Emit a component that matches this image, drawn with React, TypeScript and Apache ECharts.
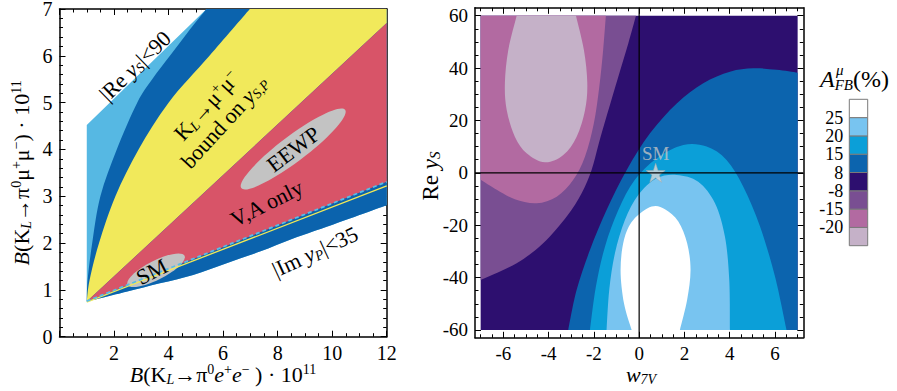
import React, { useEffect, useRef } from 'react';
import * as echarts from 'echarts';

type P = [number, number];

const FONT = "'Liberation Serif', 'Times New Roman', serif";

// ---------------- Left panel data ----------------
// lower boundary of the dark-blue (|Im yP|<35) region
const lowerBoundary: P[] = [[1, 0.75], [2.45, 0.96], [3.68, 1.14], [4.9, 1.32], [6.13, 1.57], [7.35, 1.82], [8.57, 2.1], [9.8, 2.35], [12, 2.81]];
// boundary light blue / dark blue
const lightDarkBoundary: P[] = [[1, 0.75], [1.03, 1.2], [1.2, 2.0], [1.5, 3.0], [2.1, 4.0], [2.85, 5.0], [3.4, 5.5], [4.05, 6.0], [4.7, 6.5], [5.39, 7.0]];
// boundary dark blue / yellow
const darkYellowBoundary: P[] = [[1, 0.75], [1.1, 1.2], [1.45, 2.0], [2.05, 3.0], [2.9, 4.0], [4.0, 5.0], [5.5, 6.0], [6.98, 7.0]];
// outer straight edge of the light-blue region
const lightBlueEdge: P[] = [[1, 0.75], [1, 4.52], [5.39, 7], [12, 7], [12, 2.81]];
// yellow / red boundary
const redTop: P[] = [[1, 0.75], [12, 6.7]];
const redBottom: P[] = [[12, 3.31]];
const dashedLine: P[] = [[1, 0.76], [12, 3.31]];
const yellowLine: P[] = [[1, 0.74], [12, 3.22]];
const ellipseCenters: P[] = [[8.57, 4.01], [3.54, 1.42]];

// ---------------- Right panel data ----------------
const regionBox: P[] = [[-7, -60], [-7, 60], [7, 60], [7, -60]];
const purpleBoundary: P[] = [[-0.14, 60], [-0.48, 49.4], [-0.92, 36.7], [-1.4, 22.7], [-1.78, 11.3], [-2.1, 1.1], [-2.54, -7.8], [-3.2, -16.7], [-4.24, -26.9], [-5.41, -34.5], [-7, -40.9]];
const pinkBoundary: P[] = [[-1.47, 60], [-1.59, 46.9], [-1.76, 32.9], [-2.0, 18.9], [-2.39, 6.2], [-2.91, -2.7], [-3.64, -9.1], [-4.53, -11.6], [-5.49, -10.1], [-6.29, -6.5], [-7, -2.7]];
const lightPinkBoundary: P[] = [[-5.41, 60], [-5.78, 46.9], [-5.93, 34.2], [-5.85, 24.0], [-5.49, 13.8], [-4.97, 7.5], [-4.16, 4.0], [-3.35, 6.8], [-2.76, 13.8], [-2.39, 24.0], [-2.29, 34.2], [-2.44, 46.9], [-2.79, 60]];
const medBlueBoundary: P[] = [[-3.13, -60], [-2.76, -44.7], [-2.17, -29.4], [-1.44, -14.2], [-0.55, 1.1], [0.48, 15.1], [1.66, 26.5], [2.83, 34.2], [4.01, 38.6], [5.04, 39.9], [6.07, 39.3], [7, 38.2]];
const cyanBoundary: P[] = [[-2.17, -60], [-1.91, -43.4], [-1.51, -28.2], [-0.92, -14.2], [-0.19, -2.7], [0.77, 5.5], [1.95, 10.6], [2.98, 10.0], [3.86, 4.9], [4.6, -5.3], [5.34, -20.5], [6.0, -39.6], [6.51, -60]];
const lightBlueBoundary: P[] = [[-1.44, -60], [-1.32, -44.7], [-1.07, -30.7], [-0.63, -18.0], [-0.04, -8.5], [0.77, -2.1], [1.66, -0.8], [2.61, -3.4], [3.35, -11.6], [3.79, -24.4], [3.98, -40.9], [4.01, -60]];
const whiteBoundary: P[] = [[-0.33, -60], [-0.67, -49.8], [-0.82, -37.1], [-0.67, -25.6], [-0.26, -18.0], [0.55, -12.9], [1.14, -13.9], [1.73, -18.6], [2.12, -26.9], [2.27, -37.1], [2.12, -48.5], [1.8, -60]];
const smPoint: P[] = [[0.73, 0]];
const crossV: P[] = [[0, -63], [0, 63]];
const crossH: P[] = [[-7.25, 0], [7.25, 0]];

const rightMajorX = [-6, -4, -2, 0, 2, 4, 6];
const rightMinorX = [-7, -6.5, -6, -5.5, -5, -4.5, -4, -3.5, -3, -2.5, -2, -1.5, -1, -0.5, 0, 0.5, 1, 1.5, 2, 2.5, 3, 3.5, 4, 4.5, 5, 5.5, 6, 6.5, 7];
const rightMajorY = [-60, -40, -20, 0, 20, 40, 60];
const rightMinorY = [-60, -55, -50, -45, -40, -35, -30, -25, -20, -15, -10, -5, 0, 5, 10, 15, 20, 25, 30, 35, 40, 45, 50, 55, 60];

// colour bar, bottom to top
const colorbarLevels = ['-20', '-15', '-8', '8', '15', '20', '25'];
const colorbarColors = ['#c5b1c8', '#b26aa1', '#794e92', '#2d0f6f', '#0c64ae', '#0b9fd8', '#78c4f0', '#ffffff'];

const C = {
  lightBlue: '#56b8e3',
  darkBlue: '#0b63ad',
  yellow: '#f1e95b',
  red: '#d85468',
  gray: '#c3c3c3',
  navy: colorbarColors[3],
  purple: colorbarColors[2],
  pink: colorbarColors[1],
  lightPink: colorbarColors[0],
  medBlue: colorbarColors[4],
  cyan: colorbarColors[5],
  skyBlue: colorbarColors[6],
  white: colorbarColors[7],
};

type Seg = { pts: P[]; smooth?: boolean };

function buildPath(api: any, segs: Seg[]): string {
  let d = '';
  let started = false;
  const f = (n: number) => n.toFixed(2);
  for (const seg of segs) {
    const q = seg.pts.map((p) => api.coord(p) as number[]);
    if (!started) {
      d += `M${f(q[0][0])},${f(q[0][1])}`;
      started = true;
    } else {
      d += `L${f(q[0][0])},${f(q[0][1])}`;
    }
    if (seg.smooth) {
      for (let i = 0; i < q.length - 1; i++) {
        const p0 = q[i - 1] || q[i];
        const p1 = q[i];
        const p2 = q[i + 1];
        const p3 = q[i + 2] || q[i + 1];
        const c1x = p1[0] + (p2[0] - p0[0]) / 6;
        const c1y = p1[1] + (p2[1] - p0[1]) / 6;
        const c2x = p2[0] - (p3[0] - p1[0]) / 6;
        const c2y = p2[1] - (p3[1] - p1[1]) / 6;
        d += `C${f(c1x)},${f(c1y)},${f(c2x)},${f(c2y)},${f(p2[0])},${f(p2[1])}`;
      }
    } else {
      for (let i = 1; i < q.length; i++) d += `L${f(q[i][0])},${f(q[i][1])}`;
    }
  }
  return d + 'Z';
}

function shapeSeries(name: string, axis: number, segs: Seg[], fill: string) {
  return {
    type: 'custom',
    name,
    xAxisIndex: axis,
    yAxisIndex: axis,
    silent: true,
    clip: false,
    data: [[0, 0]],
    renderItem: (_p: any, api: any) => ({
      type: 'path',
      shape: { pathData: buildPath(api, segs) },
      style: { fill, stroke: null },
    }),
  };
}

function rich(size: number, color = '#000') {
  const lh = Math.round(size * 1.1);
  const small = Math.round(size * 0.64);
  return {
    n: { fontFamily: FONT, fontSize: size, color, lineHeight: lh },
    i: { fontFamily: FONT, fontSize: size, color, lineHeight: lh, fontStyle: 'italic' },
    sub: { fontFamily: FONT, fontSize: small, color, fontStyle: 'italic', verticalAlign: 'bottom', lineHeight: 6 },
    sup: { fontFamily: FONT, fontSize: small, color, verticalAlign: 'top', lineHeight: small },
  };
}

function tickRich(size: number) {
  return { t: { fontFamily: FONT, fontSize: size, color: '#000', lineHeight: Math.round(size * 0.75) } };
}

const BLACK = '#000';
const lineStyle = { color: BLACK, width: 1.5 };
const tickStyle = { color: BLACK, width: 1 };

function leftAxis(dim: 'x' | 'y', pos: string, labels: boolean, extra: any) {
  return {
    type: 'value',
    gridIndex: 0,
    position: pos,
    axisLine: { show: true, onZero: false, lineStyle },
    axisTick: { show: true, inside: true, length: 6, lineStyle: tickStyle },
    minorTick: { show: true, splitNumber: dim === 'x' ? 4 : 5, length: 3.5, lineStyle: tickStyle },
    splitLine: { show: false },
    minorSplitLine: { show: false },
    axisLabel: labels
      ? {
          show: true, margin: dim === 'x' ? 9 : 7, showMinLabel: true, showMaxLabel: true,
          rich: tickRich(20),
          formatter: (v: number) => (dim === 'x' && v === 0 ? '' : `{t|${v}}`),
        }
      : { show: false },
    ...extra,
  };
}

function rightAxis(pos: string, major: boolean, values: number[], labels: boolean, extra: any) {
  return {
    type: 'value',
    gridIndex: 1,
    position: pos,
    axisLine: { show: major, onZero: false, lineStyle },
    axisTick: { show: true, inside: true, length: major ? 6 : 3.5, lineStyle: tickStyle, customValues: values },
    splitLine: { show: false },
    axisLabel: labels
      ? {
          show: true, customValues: values, margin: pos === 'bottom' ? 9 : 7,
          rich: tickRich(19),
          formatter: (v: number) => `{t|${v}}`,
        }
      : { show: false },
    ...extra,
  };
}

const starPath = 'path://M50,0 L61.8,35.1 L98.9,35.1 L68.8,56.9 L80.2,91.9 L50,70.2 L19.8,91.9 L31.2,56.9 L1.1,35.1 L38.2,35.1 Z';

function textEl(text: string, x: number, y: number, rotDeg: number, size = 22, color = '#111', align = 'center') {
  return {
    type: 'text',
    x,
    y,
    z: 100,
    rotation: (rotDeg * Math.PI) / 180,
    style: {
      text,
      rich: rich(size, color),
      align,
      verticalAlign: 'middle',
      textAlign: align,
      textVerticalAlign: 'middle',
    },
  };
}

function buildOption(): any {
  const xL = { min: 0, max: 12, interval: 2 };
  const yL = { min: 0, max: 7, interval: 1 };
  const xR = { min: -7.25, max: 7.25 };
  const yR = { min: -63, max: 63 };

  const series: any[] = [
    // left panel regions
    shapeSeries('lightBlue', 0, [{ pts: lightBlueEdge }, { pts: [...lowerBoundary].reverse(), smooth: true }], C.lightBlue),
    shapeSeries('darkBlue', 0, [{ pts: lightDarkBoundary, smooth: true }, { pts: [[12, 7], lowerBoundary[lowerBoundary.length - 1]] }, { pts: [...lowerBoundary].reverse(), smooth: true }], C.darkBlue),
    shapeSeries('yellow', 0, [{ pts: darkYellowBoundary, smooth: true }, { pts: [[12, 7], redTop[1], redTop[0]] }], C.yellow),
    shapeSeries('red', 0, [{ pts: [...redTop, ...redBottom] }], C.red),
    {
      type: 'line', xAxisIndex: 0, yAxisIndex: 0, data: yellowLine, symbol: 'none', silent: true,
      lineStyle: { color: '#f3ea55', width: 1.3 },
    },
    {
      type: 'line', xAxisIndex: 0, yAxisIndex: 0, data: dashedLine, symbol: 'none', silent: true,
      lineStyle: { color: '#57bde6', width: 1.8, type: [4, 3] },
    },
    {
      type: 'custom', xAxisIndex: 0, yAxisIndex: 0, silent: true, data: ellipseCenters,
      renderItem: (params: any, api: any) => {
        const c = api.coord([api.value(0), api.value(1)]);
        const big = params.dataIndex === 0;
        return {
          type: 'ellipse',
          x: c[0],
          y: c[1],
          rotation: ((big ? 37 : 27) * Math.PI) / 180,
          shape: { cx: 0, cy: 0, rx: big ? 65 : 32, ry: big ? 13 : 9.5 },
          style: { fill: C.gray },
        };
      },
    },
    // right panel contours
    shapeSeries('navy', 2, [{ pts: regionBox }], C.navy),
    shapeSeries('purple', 2, [{ pts: purpleBoundary, smooth: true }, { pts: [[-7, 60]] }], C.purple),
    shapeSeries('pink', 2, [{ pts: pinkBoundary, smooth: true }, { pts: [[-7, 60]] }], C.pink),
    shapeSeries('lightPink', 2, [{ pts: lightPinkBoundary, smooth: true }], C.lightPink),
    shapeSeries('medBlue', 2, [{ pts: medBlueBoundary, smooth: true }, { pts: [[7, -60]] }], C.medBlue),
    shapeSeries('cyan', 2, [{ pts: cyanBoundary, smooth: true }], C.cyan),
    shapeSeries('skyBlue', 2, [{ pts: lightBlueBoundary, smooth: true }], C.skyBlue),
    shapeSeries('white', 2, [{ pts: whiteBoundary, smooth: true }], C.white),
    {
      type: 'line', xAxisIndex: 2, yAxisIndex: 2, data: crossV, symbol: 'none', silent: true,
      lineStyle: { color: BLACK, width: 1.2 },
    },
    {
      type: 'line', xAxisIndex: 2, yAxisIndex: 2, data: crossH, symbol: 'none', silent: true,
      lineStyle: { color: BLACK, width: 1.2 },
    },
    {
      type: 'scatter', xAxisIndex: 2, yAxisIndex: 2, data: smPoint, symbol: starPath, symbolSize: 19, silent: true,
      itemStyle: { color: '#dadada', borderColor: '#a9a9a9', borderWidth: 0.6 },
      label: { show: true, formatter: 'SM', position: 'top', distance: 0, color: '#c4c4c4', fontFamily: FONT, fontSize: 19 },
    },
    // colour bar
    {
      type: 'custom', xAxisIndex: 6, yAxisIndex: 6, silent: true, clip: false,
      data: colorbarColors.map((_, i) => [i]),
      renderItem: (params: any, api: any) => {
        const i = params.dataIndex;
        const p0 = api.coord([0, i]);
        const p1 = api.coord([1, i + 1]);
        return {
          type: 'rect',
          shape: { x: p0[0], y: p1[1], width: p1[0] - p0[0], height: p0[1] - p1[1] },
          style: { fill: colorbarColors[i], stroke: '#7a7a7a', lineWidth: 1 },
        };
      },
    },
  ];

  return {
    animation: false,
    backgroundColor: '#ffffff',
    textStyle: { fontFamily: FONT },
    grid: [
      { left: 59.5, top: 9, width: 327.2, height: 327.7, containLabel: false, outerBoundsMode: 'none' },
      { left: 475, top: 7.8, width: 328.3, height: 330, containLabel: false, outerBoundsMode: 'none' },
      { left: 849.3, top: 99.3, width: 18.4, height: 146.4, containLabel: false, outerBoundsMode: 'none' },
    ],
    xAxis: [
      leftAxis('x', 'bottom', true, xL),
      leftAxis('x', 'top', false, xL),
      rightAxis('bottom', true, rightMajorX, true, xR),
      rightAxis('bottom', false, rightMinorX, false, xR),
      rightAxis('top', true, rightMajorX, false, xR),
      rightAxis('top', false, rightMinorX, false, xR),
      { type: 'value', gridIndex: 2, min: 0, max: 1, show: false },
    ],
    yAxis: [
      leftAxis('y', 'left', true, {
        ...yL,
        name: '{i|B}{n|(K}{sub|L}{n|→π}{sup|0}{n|μ}{sup|+}{n|μ}{sup|−}{n|) · 10}{sup|11}',
        nameLocation: 'middle',
        nameGap: 26,
        nameTextStyle: { rich: rich(22) },
      }),
      leftAxis('y', 'right', false, yL),
      rightAxis('left', true, rightMajorY, true, yR),
      rightAxis('left', false, rightMinorY, false, yR),
      rightAxis('right', true, rightMajorY, false, yR),
      rightAxis('right', false, rightMinorY, false, yR),
      {
        type: 'value', gridIndex: 2, min: 0, max: 8, interval: 1, position: 'left',
        axisLine: { show: false }, axisTick: { show: false }, splitLine: { show: false },
        axisLabel: {
          show: true, margin: 6, rich: tickRich(18),
          formatter: (v: number) => (colorbarLevels[v - 1] ? `{t|${colorbarLevels[v - 1]}}` : ''),
        },
      },
    ],
    graphic: [
      textEl('{i|B}{n|(K}{sub|L}{n|→π}{sup|0}{i|e}{sup|+}{i|e}{sup|−}{n| ) · 10}{sup|11}', 223, 374, 0, 22, '#000'),
      textEl('{i|w}{sub|7V}', 641, 374, 0, 22, '#000'),
      textEl('{n||Re }{i|y}{sub|S}{n||<90}', 135, 66, 44),
      textEl('{n|K}{sub|L}{n|→μ}{sup|+}{n|μ}{sup|−}\n{n|bound on }{i|y}{sub|S,P}', 215.5, 113.7, 47.5),
      textEl('{n|EEWP}', 293.3, 149.2, 37),
      textEl('{n|V,A only}', 266.7, 203.3, 26.6),
      textEl('{n|SM}', 151.7, 271.7, 27),
      textEl('{n||Im }{i|y}{sub|P}{n||<35}', 315, 251.7, 24.8),
      textEl('{n|Re }{i|y}{sub|S}', 430, 176, 90, 23, '#000'),
      textEl('{i|A}{sub|FB}{n|(%)}', 820, 79, 0, 24, '#000', 'left'),
      textEl('{i|μ}', 836, 70, 0, 15, '#000', 'left'),
    ],
    series,
  };
}

export default function App() {
  const ref = useRef<HTMLDivElement>(null);
  useEffect(() => {
    if (!ref.current) return;
    const chart = echarts.init(ref.current, null, { renderer: 'svg' });
    chart.setOption(buildOption());
    return () => chart.dispose();
  }, []);
  return <div ref={ref} style={{ position: 'fixed', left: 0, top: 0, width: 897, height: 391, background: '#fff' }} />;
}
